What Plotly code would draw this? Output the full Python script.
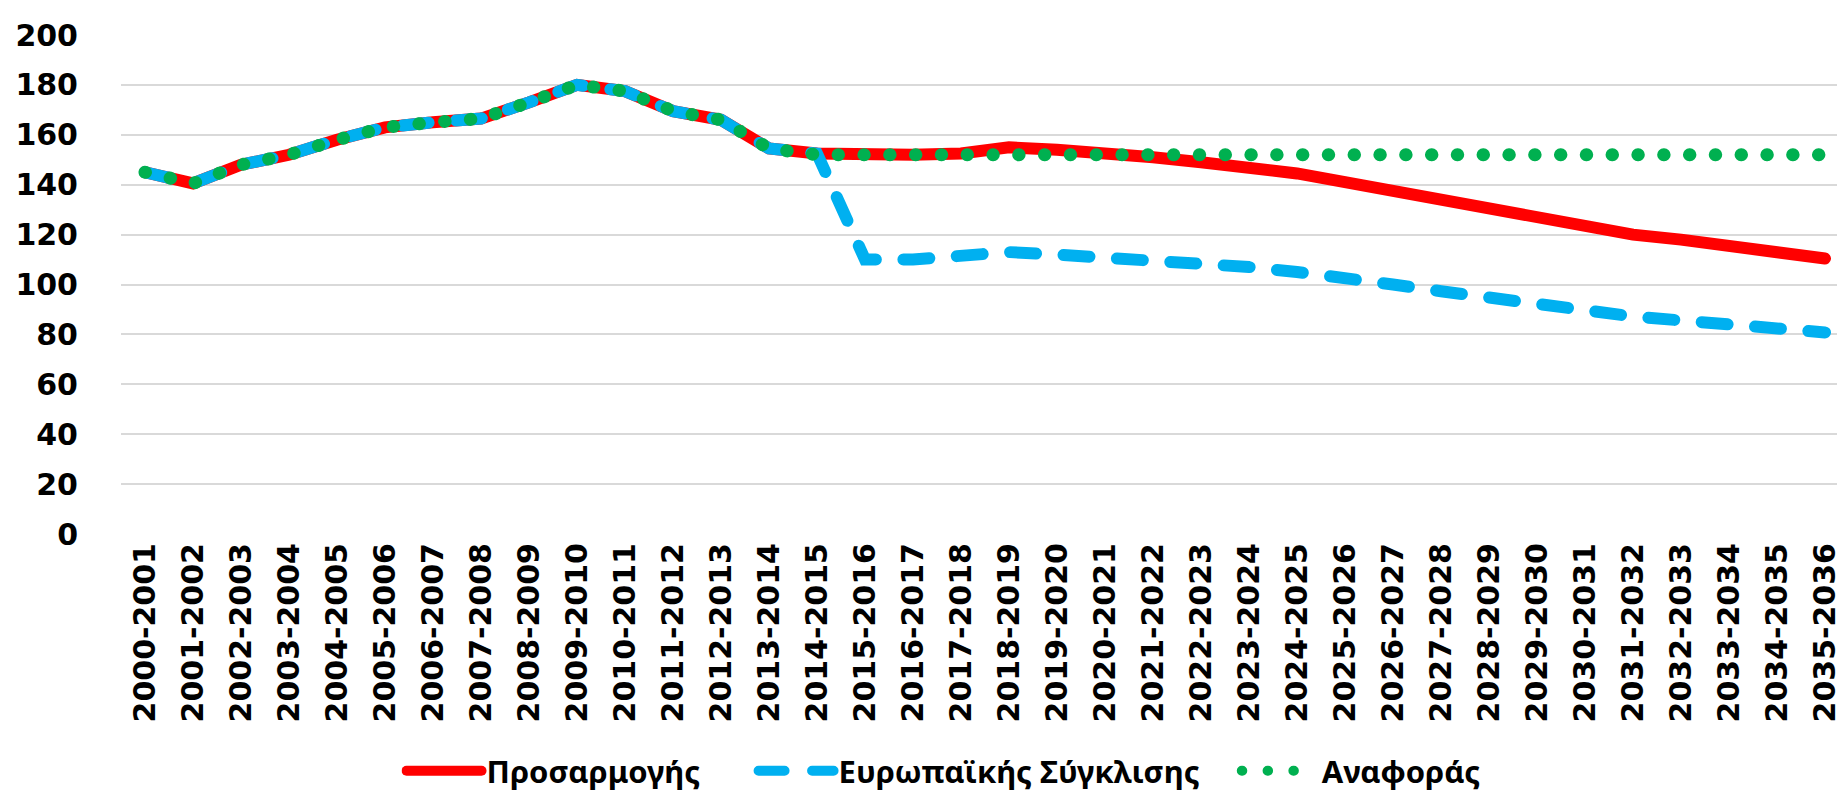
import plotly.graph_objects as go

categories = [f"{y}-{y+1}" for y in range(2000, 2036)]

prosarmogis = [145, 140.5, 148, 152, 158, 163, 165, 166.5, 173, 180, 177.5, 169.5, 166, 154.5, 152.5,
               152, 152, 152.5, 155, 154, 153, 151, 149, 147, 144.5, 141, 137.5, 134, 130, 126,
               123, 120, 118, 115.5, 113.3, 110.4]

evropaikis = [145, 140.5, 148, 152, 158, 163, 165, 166.5, 173, 180, 177.5, 169.5, 166, 154.5, 152.5,
              110, 110, 111.3, 113, 112, 111, 110, 108.7, 107, 105, 103, 100, 97.3, 94.6, 91.9,
              89.5, 87.2, 85.6, 83.9, 82.3, 80.8]

anaforas = [145, 140.5, 148, 152, 158, 163, 165, 166.5, 173, 180, 177.5, 169.5, 166, 154.5, 152,
            152, 152, 152, 152, 152, 152, 152, 152, 152, 152, 152, 152, 152, 152, 152,
            152, 152, 152, 152, 152, 152]

names = ["Προσαρμογής", "Ευρωπαϊκής Σύγκλισης", "Αναφοράς"]
y_ticks = list(range(0, 201, 20))

labels = [names[0] + "\u00a0" * 6, names[1] + "\u00a0" * 4, names[2]]

fig = go.Figure()
fig.add_trace(go.Scatter(x=categories, y=prosarmogis, name=labels[0], mode="lines",
                         line=dict(color="#ff0000", width=12)))
fig.add_trace(go.Scatter(x=categories, y=evropaikis, name=labels[1], mode="lines",
                         line=dict(color="#00b0f0", width=12, dash="26px,27.5px")))
fig.add_trace(go.Scatter(x=categories, y=anaforas, name=labels[2], mode="lines",
                         line=dict(color="#00b050", width=13, dash="0.5px,25.3px")))

tickfont = dict(family="DejaVu Sans", size=30, color="black", weight="bold")

fig.update_layout(
    width=1845, height=794,
    margin=dict(l=113, r=4, t=27, b=268),
    paper_bgcolor="white", plot_bgcolor="white",
    showlegend=True,
    legend=dict(orientation="h", x=0.476, xanchor="center", y=-0.475, yanchor="middle",
                itemwidth=75,
                font=dict(family="Noto Sans", size=31, color="black", weight="bold"),
                bgcolor="rgba(0,0,0,0)"),
    xaxis=dict(type="category", range=[-0.5, 35.5], tickangle=-90, tickfont=tickfont,
               showgrid=False, showline=False, zeroline=False, ticks="",
               ticklabelstandoff=2),
    yaxis=dict(range=[0, 200], tickvals=y_ticks, tickfont=tickfont,
               showgrid=True, gridcolor="#d9d9d9", gridwidth=1.5,
               showline=False, zeroline=False, ticks="", ticklabelstandoff=42),
)

post = """
var s=document.createElement('style');
s.innerHTML='.scatterlayer .js-line, .legend .js-line{stroke-linecap:round !important;}';
document.head.appendChild(s);
"""

fig.write_html("out.html", post_script=post)
